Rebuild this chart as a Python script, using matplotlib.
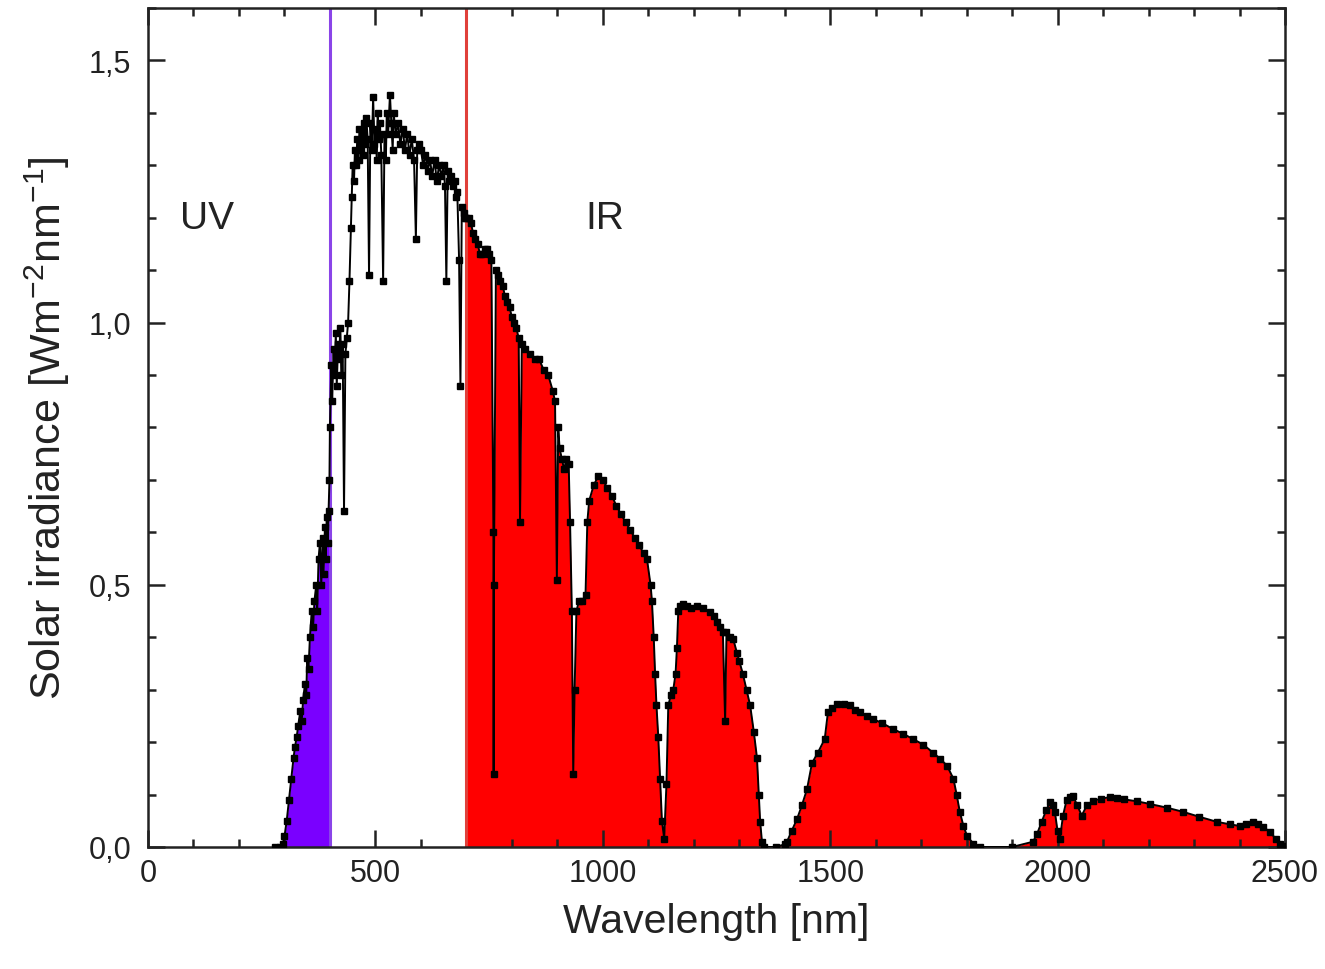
import numpy as np
import matplotlib
matplotlib.use('Agg')
import matplotlib.pyplot as plt
from matplotlib.ticker import MultipleLocator, FuncFormatter

plt.rcParams['font.family'] = ['Liberation Sans', 'DejaVu Sans']
plt.rcParams['mathtext.default'] = 'regular'

# wavelength [nm] and irradiance [W m-2 nm-1]
wl_uv = [280, 290, 296, 300, 305, 310, 315, 320, 323, 327, 330, 335, 338, 341, 345,
         348, 350, 353, 356, 360, 363, 366, 370, 372, 375, 378, 381, 384, 386, 389,
         391, 393, 395, 397, 399]
irr_uv = [0.0, 0.0, 0.005, 0.02, 0.05, 0.09, 0.13, 0.17, 0.19, 0.21, 0.23, 0.26, 0.24, 0.28, 0.31,
          0.29, 0.36, 0.34, 0.40, 0.45, 0.42, 0.47, 0.50, 0.45, 0.55, 0.58, 0.50, 0.59, 0.52, 0.61,
          0.55, 0.63, 0.58, 0.64, 0.70]

wl_vis = [400, 403, 405, 408, 410, 413, 415, 418, 420, 423, 425, 428, 431, 434, 437,
          440, 443, 446, 448, 450, 453, 455, 458, 460, 463, 465, 468, 470, 473, 475,
          478, 480, 483, 486, 489, 492, 495, 498, 500, 503, 505, 508, 510, 513, 517,
          520, 523, 525, 528, 532, 535, 538, 540, 545, 550, 555, 560, 565, 570, 575,
          580, 585, 589, 592, 595, 600, 605, 610, 615, 620, 625, 630, 635, 640, 645,
          650, 653, 656, 659, 662, 666, 670, 674, 677, 680, 684, 687, 690, 694, 697]
irr_vis = [0.80, 0.92, 0.85, 0.95, 0.90, 0.98, 0.88, 0.96, 0.93, 0.99, 0.90, 0.96, 0.64, 0.94, 0.97,
           1.00, 1.08, 1.18, 1.24, 1.30, 1.27, 1.33, 1.30, 1.35, 1.31, 1.37, 1.33, 1.36, 1.32, 1.38,
           1.34, 1.39, 1.35, 1.09, 1.38, 1.33, 1.43, 1.34, 1.37, 1.31, 1.40, 1.35, 1.38, 1.32, 1.08,
           1.36, 1.31, 1.40, 1.36, 1.435, 1.38, 1.33, 1.40, 1.36, 1.38, 1.34, 1.37, 1.33, 1.36, 1.32,
           1.35, 1.31, 1.16, 1.33, 1.34, 1.33, 1.30, 1.32, 1.29, 1.31, 1.28, 1.31, 1.27, 1.30, 1.28,
           1.30, 1.26, 1.08, 1.29, 1.27, 1.28, 1.26, 1.27, 1.24, 1.25, 1.12, 0.88, 1.22, 1.21, 1.20]

wl_ir = [700, 705, 710, 715, 720, 725, 730, 735, 740, 745, 750, 755, 759.5, 760, 760.5,
         765, 770, 775, 780, 785, 790, 795, 800, 805, 810, 815, 818, 822, 830, 840,
         850, 860, 870, 880, 890, 895, 899, 902, 905, 910, 915, 920, 925, 928, 932,
         935, 938, 942, 948, 955, 962, 966, 970, 980, 990, 1000, 1010, 1020, 1030, 1040,
         1050, 1060, 1070, 1080, 1090, 1097, 1105, 1108, 1112, 1115, 1118, 1122, 1126, 1130, 1135,
         1140, 1144, 1150, 1155, 1160, 1163, 1166, 1170, 1177, 1185, 1195, 1207, 1220, 1236, 1245,
         1252, 1258, 1264, 1269, 1272, 1280, 1287, 1295, 1300, 1308, 1316, 1324, 1332, 1339, 1343,
         1346, 1350, 1355, 1380, 1400, 1405, 1415, 1427, 1438, 1449, 1460, 1473, 1488, 1495, 1505,
         1515, 1530, 1543, 1555, 1565, 1580, 1594, 1615, 1638, 1660, 1682, 1705, 1726, 1742, 1757,
         1771, 1778, 1785, 1793, 1801, 1815, 1830, 1900, 1946, 1955, 1965, 1975, 1983, 1990, 1994,
         2000, 2005, 2012, 2020, 2027, 2034, 2043, 2053, 2065, 2078, 2095, 2115, 2130, 2145, 2175,
         2203, 2240, 2276, 2310, 2350, 2380, 2401, 2415, 2430, 2440, 2452, 2467, 2480, 2489, 2495]
irr_ir = [1.20, 1.20, 1.19, 1.17, 1.16, 1.15, 1.13, 1.13, 1.14, 1.14, 1.13, 1.12, 0.60, 0.14, 0.50,
          1.10, 1.09, 1.08, 1.07, 1.05, 1.04, 1.03, 1.01, 1.00, 0.99, 0.97, 0.62, 0.96, 0.95, 0.94,
          0.93, 0.93, 0.91, 0.90, 0.87, 0.85, 0.51, 0.80, 0.76, 0.74, 0.72, 0.74, 0.73, 0.62, 0.45,
          0.14, 0.30, 0.45, 0.47, 0.47, 0.48, 0.62, 0.66, 0.69, 0.707, 0.70, 0.685, 0.67, 0.65, 0.635,
          0.62, 0.605, 0.59, 0.575, 0.56, 0.55, 0.50, 0.47, 0.40, 0.33, 0.27, 0.21, 0.13, 0.05, 0.016,
          0.12, 0.27, 0.29, 0.30, 0.33, 0.38, 0.45, 0.46, 0.463, 0.46, 0.455, 0.46, 0.455, 0.448, 0.44,
          0.43, 0.42, 0.41, 0.24, 0.41, 0.40, 0.396, 0.37, 0.355, 0.33, 0.30, 0.27, 0.22, 0.17, 0.10,
          0.048, 0.01, 0.0, 0.0, 0.005, 0.01, 0.03, 0.053, 0.08, 0.11, 0.16, 0.18, 0.206, 0.257, 0.265,
          0.273, 0.272, 0.27, 0.262, 0.257, 0.25, 0.244, 0.236, 0.225, 0.216, 0.206, 0.195, 0.18, 0.168, 0.155,
          0.13, 0.10, 0.067, 0.04, 0.021, 0.006, 0.0, 0.0, 0.01, 0.025, 0.048, 0.07, 0.085, 0.08, 0.067,
          0.03, 0.015, 0.06, 0.09, 0.095, 0.097, 0.08, 0.06, 0.08, 0.088, 0.092, 0.095, 0.093, 0.091, 0.087,
          0.082, 0.075, 0.067, 0.058, 0.048, 0.043, 0.04, 0.044, 0.048, 0.043, 0.038, 0.029, 0.015, 0.006, 0.002]

uv_edge, ir_edge = 400, 700

wl = np.array(wl_uv + wl_vis + wl_ir, dtype=float)
irr = np.array(irr_uv + irr_vis + irr_ir, dtype=float)

fig = plt.figure(figsize=(13.25, 9.7), dpi=100)
ax = fig.add_axes([0.1117, 0.1258, 0.8581, 0.8649])

# coloured bands under the spectrum
ax.fill_between(wl, 0, irr, where=wl <= uv_edge, color='#7a00ff', lw=0, zorder=1)
ax.fill_between(wl, 0, irr, where=wl >= ir_edge, color='#ff0000', lw=0, zorder=1)

ax.plot(wl, irr, color='black', lw=1.4, marker='s', ms=5, mec='black', mfc='black', zorder=3)

ax.axvline(uv_edge, color='#8a44e8', lw=2.2, zorder=2)
ax.axvline(ir_edge, color='#e0403a', lw=2.2, zorder=2)

ax.text(130, 1.2, 'UV', fontsize=28, ha='center', va='center', color='#222222')
ax.text(1005, 1.2, 'IR', fontsize=28, ha='center', va='center', color='#222222')

ax.set_xlim(0, 2500)
ax.set_ylim(0, 1.6)
ax.xaxis.set_major_locator(MultipleLocator(500))
ax.xaxis.set_minor_locator(MultipleLocator(100))
ax.yaxis.set_major_locator(MultipleLocator(0.5))
ax.yaxis.set_minor_locator(MultipleLocator(0.1))
ax.yaxis.set_major_formatter(FuncFormatter(lambda v, p: f'{v:.1f}'.replace('.', ',')))

ax.tick_params(which='both', direction='in', top=True, right=True, width=1.8, colors='#222222')
ax.tick_params(which='major', length=12, labelsize=22, pad=8)
ax.tick_params(axis='y', which='major', pad=12)
ax.tick_params(which='minor', length=6)
for s in ax.spines.values():
    s.set_linewidth(1.8)
    s.set_color('#222222')

ax.set_xlabel('Wavelength [nm]', fontsize=29.5, labelpad=10, color='#222222')
ax.set_ylabel('Solar irradiance [Wm$^{-2}$nm$^{-1}$]', fontsize=31, labelpad=12, color='#222222')

fig.savefig('out.png', dpi=100)
